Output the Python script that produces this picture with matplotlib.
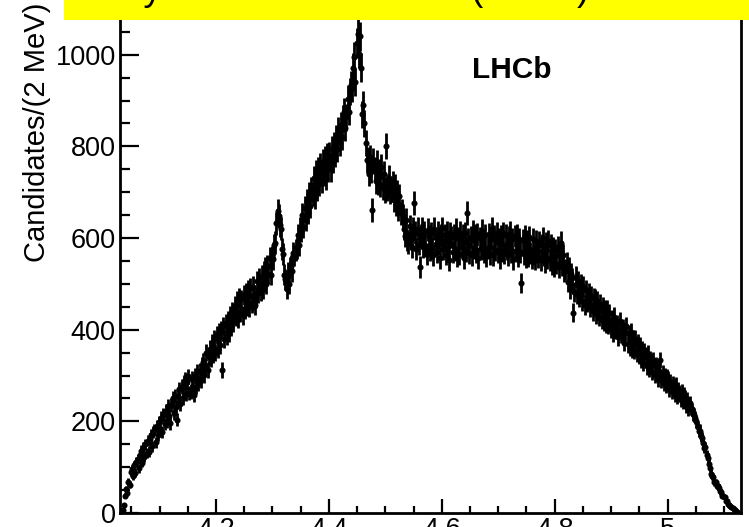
import numpy as np
import matplotlib
matplotlib.use("Agg")
import matplotlib.pyplot as plt
from matplotlib.patches import Rectangle
from matplotlib.ticker import FixedLocator, MultipleLocator

plt.rcParams['font.family'] = ['Liberation Sans', 'DejaVu Sans']

# ---- data -------------------------------------------------------------
bin_start = 4.03      # GeV
bin_width = 0.002     # GeV (2 MeV bins)
counts = [
    0, 0, 6, 18, 38,  52, 44, 68, 62, 90,  96, 80, 104, 88, 112,  118, 98, 126, 136, 110,
    142, 122, 150, 131, 158,  134, 162, 170, 146, 176,  181, 154, 190, 170, 198,  180, 208, 176, 214, 194,
    222, 200, 234, 212, 196,  236, 250, 218, 255, 232,  204, 256, 270, 238, 276,  252, 284, 290, 260, 286,
    298, 262, 265, 292, 270,  258, 300, 276, 307, 284,  310, 290, 322, 330, 302,  320, 350, 312, 342, 358,
    338, 372, 346, 380, 350,  388, 358, 394, 366, 400,  312, 408, 380, 414, 386,  420, 394, 432, 406, 440,
    416, 452, 428, 462, 424,  470, 438, 466, 432, 476,  444, 480, 452, 486, 450,  490, 458, 494, 464, 454,
    470, 506, 480, 512, 484,  518, 488, 526, 536, 500,  540, 522, 556, 520, 558,  554, 584, 590, 632, 660,
    648, 628, 620, 576, 566,  520, 510, 488, 524, 500,  536, 540, 528, 568, 562,  574, 578, 606, 584, 620,
    616, 650, 624, 666, 640,  680, 656, 696, 670, 706,  696, 730, 690, 742, 708,  750, 718, 758, 726, 766,
    740, 772, 732, 780, 750,  782, 750, 794, 770, 804,  782, 818, 794, 836, 808,  846, 820, 860, 876, 840,
    864, 904, 876, 920, 934,  928, 972, 996, 940, 1026,  1046, 1002, 1040, 972, 870,  890, 850, 808, 770, 768,
    740, 776, 748, 661, 768,  750, 724, 764, 720, 746,  716, 756, 710, 740, 704,  800, 708, 712, 732, 700,
    706, 720, 682, 712, 674,  700, 664, 692, 654, 660,  648, 620, 604, 640, 596,  590, 626, 598, 580, 620,
    677, 612, 576, 620, 588,  537, 606, 620, 580, 612,  582, 566, 618, 604, 574,  610, 578, 562, 620, 586,
    570, 612, 600, 556, 606,  622, 576, 606, 564, 612,  580, 552, 610, 602, 570,  606, 574, 618, 560, 600,
    566, 612, 580, 606, 556,  610, 572, 655, 598, 568,  602, 562, 614, 578, 606,  570, 608, 556, 600, 576,
    616, 578, 570, 606, 560,  578, 608, 566, 598, 620,  562, 604, 574, 610, 570,  598, 556, 604, 572, 610,
    568, 606, 576, 562, 602,  612, 570, 598, 554, 604,  572, 606, 560, 598, 570,  502, 596, 566, 604, 558,
    594, 560, 602, 568, 556,  598, 564, 554, 594, 570,  558, 592, 552, 584, 600,  562, 546, 588, 556, 594,
    552, 584, 542, 578, 538,  574, 544, 580, 536, 568,  590, 540, 564, 526, 532,  546, 504, 536, 490, 522,
    512, 437, 482, 516, 478,  506, 472, 484, 500, 462,  494, 454, 486, 460, 464,  480, 450, 474, 440, 470,
    468, 434, 462, 442, 428,  456, 422, 450, 418, 444,  414, 444, 410, 436, 402,  422, 394, 428, 400, 406,
    412, 384, 418, 390, 396,  404, 372, 396, 408, 368,  390, 362, 394, 358, 380,  354, 380, 348, 372, 344,
    364, 334, 356, 328, 352,  344, 320, 348, 314, 336,  328, 308, 334, 302, 322,  316, 292, 310, 334, 290,
    306, 284, 300, 278, 296,  292, 270, 286, 266, 282,  276, 258, 280, 254, 270,  264, 246, 266, 242, 258,
    252, 234, 248, 226, 240,  228, 226, 216, 214, 208,  200, 188, 180, 180, 168,  164, 152, 142, 144, 126,
    120, 108, 98, 86, 80,  78, 68, 67, 59, 58,  55, 47, 45, 38, 37,  34, 27, 26, 19, 18,
    16, 13, 10, 8, 6,  5, 3, 1, 0, 0,
]
x_range = (4.03, 5.13)
y_range = (0, 1150)
x_ticks = [4.2, 4.4, 4.6, 4.8, 5.0]
x_tick_labels = ["4.2", "4.4", "4.6", "4.8", "5"]
y_ticks = [0, 200, 400, 600, 800, 1000]
y_tick_labels = ["0", "200", "400", "600", "800", "1000"]
y_label = "Candidates/(2 MeV)"
experiment_label = "LHCb"
banner_text = "Analysis of the structure (LHCb)"

# ---- figure -----------------------------------------------------------
counts_arr = np.array(counts, dtype=float)
centers = bin_start + bin_width * (np.arange(len(counts_arr)) + 0.5)
mask = counts_arr > 0

W, H = 749, 527
fig = plt.figure(figsize=(W / 100, H / 100), dpi=100)
fig.patch.set_facecolor('white')
ax = fig.add_axes([120 / W, 14 / H, 621 / W, 527 / H])

ax.errorbar(centers[mask], counts_arr[mask], yerr=np.sqrt(counts_arr[mask]),
            fmt='o', ms=4.4, mew=0, color='black', ecolor='black',
            elinewidth=2.0, capsize=0)

ax.set_xlim(*x_range)
ax.set_ylim(*y_range)
ax.xaxis.set_major_locator(FixedLocator(x_ticks))
ax.set_xticklabels(x_tick_labels)
ax.xaxis.set_minor_locator(MultipleLocator(0.05))
ax.yaxis.set_major_locator(FixedLocator(y_ticks))
ax.set_yticklabels(y_tick_labels)
ax.yaxis.set_minor_locator(MultipleLocator(50))

ax.tick_params(axis='both', which='both', direction='in', width=1.6,
               labelsize=19.5, top=False, right=False, pad=3)
ax.tick_params(axis='x', which='major', length=10)
ax.tick_params(axis='x', which='minor', length=5)
ax.tick_params(axis='y', which='major', length=13.5)
ax.tick_params(axis='y', which='minor', length=7)
for s in ax.spines.values():
    s.set_linewidth(2.0)

fig.text(37 / W, 1 - 3 / H, y_label, rotation=90, ha='center', va='top', fontsize=21)
fig.text(472 / W, 1 - 78 / H, experiment_label, fontweight='bold', fontsize=21.5,
         ha='left', va='baseline')

fig.add_artist(Rectangle((64 / W, 1 - 20 / H), (W - 64) / W, 20 / H,
                         transform=fig.transFigure, facecolor='#ffff00',
                         edgecolor='none', zorder=10))
fig.text(70 / W, 1 + 0.5 / H, banner_text, fontsize=26.4, ha='left', va='baseline',
         color='black', zorder=11)

fig.savefig("out.png", dpi=100)
